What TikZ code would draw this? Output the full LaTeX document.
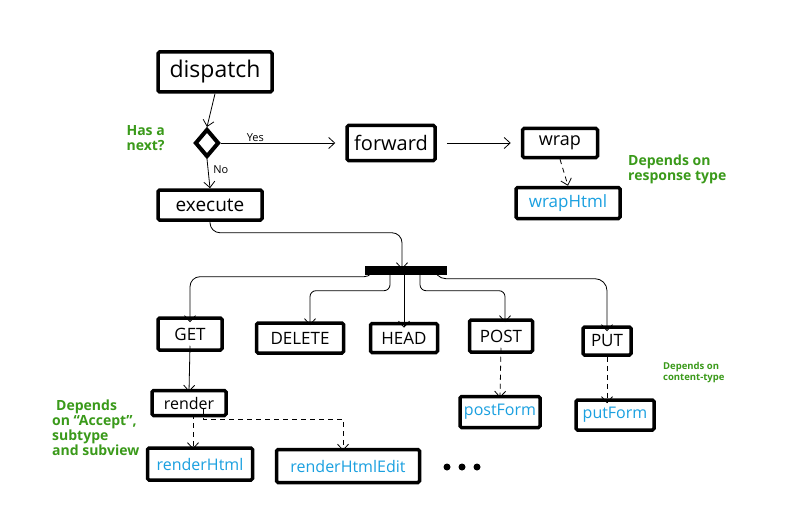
\documentclass[tikz,border=0pt]{standalone}
\usepackage{fontspec}
\setmainfont{Open Sans}
\usetikzlibrary{arrows.meta,shapes.geometric}
\definecolor{notegreen}{HTML}{3A9A1A}
\definecolor{codeblue}{HTML}{1AA0E0}
\tikzset{
  box/.style={draw, line width=3.5pt, rounded corners=1.5pt, inner sep=0pt, align=center},
  bluebox/.style={box, text=codeblue},
  arr/.style={-{Straight Barb[length=6pt,width=11pt]}, line width=0.8pt},
  darr/.style={arr, dashed, dash pattern=on 5pt off 4pt},
  note/.style={text=notegreen, font=\fontsize{14}{15}\selectfont\bfseries, align=left, inner sep=0pt},
  lbl/.style={font=\fontsize{11}{11}\selectfont, inner sep=1pt}
}
\begin{document}
\begin{tikzpicture}[x=1pt,y=-1pt]
\useasboundingbox[fill=white] (0,0) rectangle (800,532);
% top part
\node[box, minimum width=114pt, minimum height=40pt, font=\fontsize{23}{23}\selectfont] (dispatch) at (215,72) {dispatch};
\node[draw, diamond, line width=4pt, minimum width=24pt, minimum height=28pt, inner sep=0pt] (dec) at (207,143) {};
\node[box, minimum width=88pt, minimum height=35pt, font=\fontsize{20}{20}\selectfont] (forward) at (391,143) {forward};
\node[box, minimum width=104pt, minimum height=30pt, font=\fontsize{19}{19}\selectfont] (execute) at (210,205) {execute};
\node[box, minimum width=75pt, minimum height=29pt, font=\fontsize{18}{18}\selectfont] (wrap) at (560,143) {wrap};
\node[bluebox, minimum width=104pt, minimum height=31pt, font=\fontsize{17}{17}\selectfont] (wrapHtml) at (568,203) {wrapHtml};
\node[note, anchor=east] (hasnext) at (165,138) {Has a\\next?};
\node[note, anchor=north west] (resp) at (628,155) {Depends on\\response type};
\draw[arr] (dispatch.south) -- (dec.north);
\draw[arr] (dec.east) -- node[lbl, above, pos=0.3] (yes) {Yes} ([xshift=-10pt]forward.west);
\draw[arr] (dec.south) -- node[lbl, right, pos=0.35, xshift=4pt] (no) {No} (execute.north);
\draw[arr] ([xshift=10pt]forward.east) -- ([xshift=-10pt]wrap.west);
\draw[darr] (wrap.south) -- (wrapHtml.north);
% bar
\node[fill=black, minimum width=82pt, minimum height=9pt, inner sep=0pt] (bar) at (406,270) {};
\draw[arr, rounded corners=10pt] ([yshift=3pt]execute.south) -- ++(0,14) -| ([xshift=-4pt,yshift=-4pt]bar.north);
% methods
\node[box, minimum width=64pt, minimum height=32pt, font=\fontsize{17}{17}\selectfont] (get) at (190,334) {GET};
\node[box, minimum width=87pt, minimum height=30pt, font=\fontsize{17}{17}\selectfont] (delete) at (300,338) {DELETE};
\node[box, minimum width=67pt, minimum height=29pt, font=\fontsize{17}{17}\selectfont] (head) at (404,338) {HEAD};
\node[box, minimum width=63pt, minimum height=32pt, font=\fontsize{17}{17}\selectfont] (post) at (501,336) {POST};
\node[box, minimum width=48pt, minimum height=28pt, font=\fontsize{17}{17}\selectfont] (put) at (607,341) {PUT};
\draw[arr, rounded corners=10pt] ([xshift=-32pt,yshift=6pt]bar.south) -- ++(0,8) -| ([yshift=-6pt]get.north);
\draw[arr, rounded corners=6pt] ([xshift=-16pt,yshift=6pt]bar.south) -- ++(0,22) -| ([xshift=10pt,yshift=-4pt]delete.north);
\draw[arr] ([yshift=6pt]bar.south -| head.north) -- ([yshift=-6pt]head.north);
\draw[arr, rounded corners=6pt] ([xshift=14pt,yshift=6pt]bar.south) -- ++(0,22) -| ([xshift=4pt,yshift=-4pt]post.north);
\draw[arr, rounded corners=12pt] ([xshift=28pt,yshift=6pt]bar.south) -- ++(0,10) -| ([yshift=-6pt]put.north);
\node[note, anchor=north west, font=\fontsize{9.5}{11}\selectfont\bfseries] (ctype) at (663,362) {Depends on\\content-type};
% render
\node[box, minimum width=74pt, minimum height=25pt, font=\fontsize{16}{16}\selectfont] (render) at (189,403) {render};
\node[bluebox, minimum width=105pt, minimum height=32pt, font=\fontsize{16}{16}\selectfont] (rhtml) at (200,464) {renderHtml};
\node[bluebox, minimum width=143pt, minimum height=33pt, font=\fontsize{16}{16}\selectfont] (rhtmledit) at (348,466) {renderHtmlEdit};
\node[bluebox, minimum width=80pt, minimum height=31pt, font=\fontsize{16}{16}\selectfont] (postform) at (500,412) {postForm};
\node[bluebox, minimum width=78pt, minimum height=30pt, font=\fontsize{16}{16}\selectfont] (putform) at (615,415) {putForm};
\draw[arr] ([yshift=6pt]get.south) -- ([yshift=-3pt]render.north);
\draw[darr] ([xshift=4pt,yshift=3pt]render.south) -- ([xshift=-7pt,yshift=-3pt]rhtml.north);
\draw[darr] ([xshift=14pt,yshift=8pt]render.south) -- ++(0,10) -| ([xshift=-5pt,yshift=-3pt]rhtmledit.north);
\draw[darr] ([yshift=6pt]post.south) -- ([yshift=-3pt]postform.north);
\draw[darr] (put.south) -- ([xshift=-8pt,yshift=-5pt]putform.north);
\node[note, anchor=north west] (accept) at (52,400) {\hspace*{4pt}Depends\\on ``Accept'',\\subtype\\and subview};
\fill (447,467) circle (3.5pt) (462,467) circle (3.5pt) (477,467) circle (3.5pt);
\end{tikzpicture}
\end{document}
